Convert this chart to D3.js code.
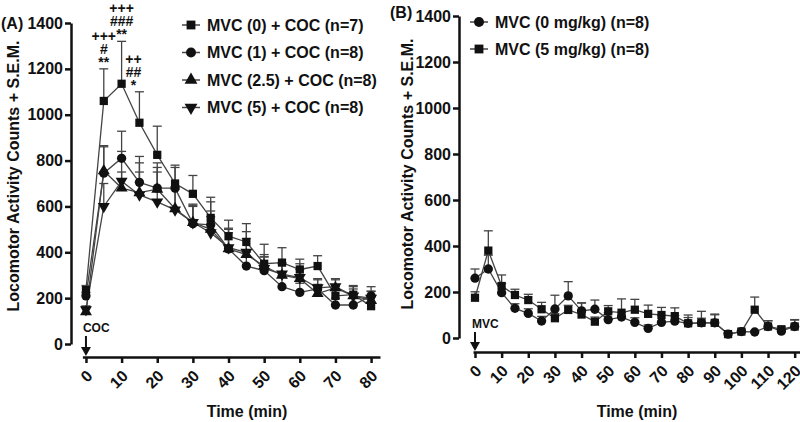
<!DOCTYPE html>
<html>
<head>
    <title>Locomotor activity</title>
    <script src="https://cdn.jsdelivr.net/npm/d3@7"></script>
    <style>
        body { margin: 0; background: #fff; }
        text { font-family: "Liberation Sans", Arial, sans-serif; font-weight: bold; fill: #111; }
    </style>
</head>
<body>
    <div id="chart"></div>
    <script type="text/javascript">
        // panel A : cocaine after MVC pretreatment
        var timeA = [0, 5, 10, 15, 20, 25, 30, 35, 40, 45, 50, 55, 60, 65, 70, 75, 80];
        var mvc0 = [235, 1060, 1135, 965, 825, 700, 655, 550, 470, 445, 350, 355, 325, 340, 210, 215, 165];
        var mvc0Err = [20, 140, 185, 135, 125, 80, 80, 90, 70, 80, 85, 65, 45, 45, 40, 40, 45];
        var mvc1 = [210, 745, 810, 705, 680, 680, 525, 520, 415, 340, 320, 250, 225, 240, 170, 170, 210];
        var mvc1Err = [15, 115, 118, 113, 110, 90, 80, 100, 70, 60, 60, 50, 40, 40, 30, 30, 40];
        var mvc25 = [140, 755, 680, 660, 675, 590, 530, 500, 415, 390, 340, 300, 285, 220, 245, 210, 190];
        var mvc25Err = [25, 110, 70, 90, 95, 85, 70, 80, 90, 70, 40, 50, 40, 40, 40, 40, 40];
        var mvc5 = [150, 600, 710, 650, 620, 585, 530, 485, 420, 400, 330, 305, 290, 245, 250, 210, 200];
        var mvc5Err = [15, 100, 130, 140, 130, 100, 80, 70, 80, 90, 60, 50, 60, 40, 30, 30, 30];
        var labelsA = ["MVC (0) + COC (n=7)", "MVC (1) + COC (n=8)", "MVC (2.5) + COC (n=8)", "MVC (5) + COC (n=8)"];
        var ticksXA = [0, 10, 20, 30, 40, 50, 60, 70, 80];

        // significance marks above MVC (0)
        var starTimes = [5, 10, 15];
        var starLines = [["+++", "#", "**"], ["+++", "###", "**"], ["++", "##", "*"]];

        // panel B : MVC alone
        var timeB = [0, 5, 10, 15, 20, 25, 30, 35, 40, 45, 50, 55, 60, 65, 70, 75, 80, 85, 90, 95, 100, 105, 110, 115, 120];
        var mvcB0 = [260, 300, 197, 129, 107, 74, 126, 183, 118, 125, 80, 91, 68, 42, 68, 73, 64, 66, 66, 17, 28, 26, 50, 30, 50];
        var mvcB0Err = [40, 60, 40, 20, 20, 20, 60, 62, 35, 40, 30, 20, 20, 15, 30, 25, 25, 50, 35, 5, 5, 5, 25, 10, 30];
        var mvcB5 = [175, 380, 226, 187, 165, 125, 86, 122, 102, 71, 116, 110, 123, 105, 100, 95, 64, 66, 66, 17, 28, 123, 50, 38, 50];
        var mvcB5Err = [26, 86, 48, 25, 25, 30, 20, 20, 50, 20, 25, 60, 45, 38, 33, 36, 36, 20, 38, 5, 5, 55, 25, 10, 28];
        var labelsB = ["MVC (0 mg/kg) (n=8)", "MVC (5 mg/kg) (n=8)"];
        var ticksXB = [0, 10, 20, 30, 40, 50, 60, 70, 80, 90, 100, 110, 120];

        var ticksY = [0, 200, 400, 600, 800, 1000, 1200, 1400];

        var width = 800, height = 422;

        var svg = d3.select("#chart").append("svg")
            .attr("width", width)
            .attr("height", height);

        function symPath(type, size) {
            return d3.symbol().type(type).size(size)();
        }

        var seriesA = [
            { name: labelsA[0], v: mvc0, e: mvc0Err, sym: d3.symbolSquare, flip: false },
            { name: labelsA[1], v: mvc1, e: mvc1Err, sym: d3.symbolCircle, flip: false },
            { name: labelsA[2], v: mvc25, e: mvc25Err, sym: d3.symbolTriangle, flip: false },
            { name: labelsA[3], v: mvc5, e: mvc5Err, sym: d3.symbolTriangle, flip: true }
        ];
        var seriesB = [
            { name: labelsB[0], v: mvcB0, e: mvcB0Err, sym: d3.symbolCircle, flip: false },
            { name: labelsB[1], v: mvcB5, e: mvcB5Err, sym: d3.symbolSquare, flip: false }
        ];

        function markerSize(s) {
            return s.sym === d3.symbolTriangle ? 62 : 68;
        }

        function drawPanel(o) {
            var g = svg.append("g");
            var x = d3.scaleLinear().domain(o.xDomain).range(o.xRange);
            var y = d3.scaleLinear().domain([0, 1400]).range(o.yRange);

            // y axis
            var ya = g.append("g")
                .attr("transform", "translate(" + o.yAxisX + ",0)")
                .call(d3.axisLeft(y).tickValues(ticksY).tickFormat(d3.format("d"))
                    .tickSize(6).tickPadding(2).tickSizeOuter(0));
            ya.select(".domain").attr("stroke", "#111").attr("stroke-width", 2.5);
            ya.selectAll(".tick line").attr("stroke", "#111").attr("stroke-width", 2.5);
            ya.selectAll(".tick text").style("font-size", "16px").attr("fill", "#111");

            // x axis
            var xa = g.append("g")
                .attr("transform", "translate(0," + o.xAxisY + ")")
                .call(d3.axisBottom(x).tickValues(o.ticksX).tickFormat(d3.format("d"))
                    .tickSize(6).tickSizeOuter(0));
            xa.select(".domain").attr("stroke", "#111").attr("stroke-width", 2.5);
            xa.selectAll(".tick line").attr("stroke", "#111").attr("stroke-width", 2.5);
            xa.selectAll(".tick text")
                .style("font-size", "16px")
                .attr("fill", "#111")
                .attr("y", 0)
                .attr("dy", "0.35em")
                .attr("transform", "translate(3,16) rotate(-45)")
                .style("text-anchor", "end");

            // titles
            g.append("text")
                .attr("x", o.xTitleX)
                .attr("y", 417)
                .attr("text-anchor", "middle")
                .style("font-size", "16px")
                .text("Time (min)");
            g.append("text")
                .attr("transform", "translate(" + o.yTitleX + "," + o.yTitleY + ") rotate(-90)")
                .attr("text-anchor", "middle")
                .attr("dy", "0.35em")
                .style("font-size", "16px")
                .text("Locomotor Activity Counts + S.E.M.");
            g.append("text")
                .attr("x", o.panelX)
                .attr("y", o.panelY)
                .style("font-size", "16px")
                .text(o.panel);

            // injection arrow
            var ax = x(0);
            g.append("text")
                .attr("x", ax - 3)
                .attr("y", o.arrowTop - 4)
                .style("font-size", "12px")
                .text(o.drug);
            g.append("line")
                .attr("x1", ax).attr("x2", ax)
                .attr("y1", o.arrowTop).attr("y2", o.arrowBottom - 6)
                .attr("stroke", "#111").attr("stroke-width", 2);
            g.append("path")
                .attr("d", "M" + (ax - 5) + "," + (o.arrowBottom - 9) + "L" + (ax + 5) + "," + (o.arrowBottom - 9) + "L" + ax + "," + o.arrowBottom + "Z")
                .attr("fill", "#111");

            var line = d3.line()
                .x(function(d, i) { return x(o.time[i]); })
                .y(function(d) { return y(d); });

            // error bars (upper only)
            o.series.forEach(function(s) {
                var eg = g.append("g").attr("stroke", "#444").attr("stroke-width", 1.3);
                s.v.forEach(function(d, i) {
                    var cx = x(o.time[i]), top = y(d + s.e[i]);
                    eg.append("line").attr("x1", cx).attr("x2", cx).attr("y1", y(d)).attr("y2", top);
                    eg.append("line").attr("x1", cx - 4.5).attr("x2", cx + 4.5).attr("y1", top).attr("y2", top);
                });
            });

            // connecting lines
            o.series.forEach(function(s) {
                g.append("path")
                    .datum(s.v)
                    .attr("d", line)
                    .attr("fill", "none")
                    .attr("stroke", "#444")
                    .attr("stroke-width", 1.3);
            });

            // markers
            o.series.forEach(function(s) {
                g.append("g").selectAll("path")
                    .data(s.v)
                    .enter().append("path")
                    .attr("d", symPath(s.sym, markerSize(s)))
                    .attr("transform", function(d, i) {
                        return "translate(" + x(o.time[i]) + "," + y(d) + ")" + (s.flip ? " rotate(180)" : "");
                    })
                    .attr("fill", "#111");
            });

            // legend
            var lg = g.append("g");
            o.series.forEach(function(s, i) {
                var ly = o.legendY + i * o.legendStep;
                lg.append("line")
                    .attr("x1", o.legendX - 9).attr("x2", o.legendX + 9)
                    .attr("y1", ly).attr("y2", ly)
                    .attr("stroke", "#444").attr("stroke-width", 1.5);
                lg.append("path")
                    .attr("d", symPath(s.sym, markerSize(s) + 10))
                    .attr("transform", "translate(" + o.legendX + "," + ly + ")" + (s.flip ? " rotate(180)" : ""))
                    .attr("fill", "#111");
                lg.append("text")
                    .attr("x", o.legendX + 16)
                    .attr("y", ly)
                    .attr("dy", "0.35em")
                    .style("font-size", "16px")
                    .text(s.name);
            });

            return { x: x, y: y, g: g };
        }

        var pa = drawPanel({
            time: timeA, series: seriesA, ticksX: ticksXA,
            xDomain: [-1, 82.5], xRange: [82.4, 380], yRange: [344, 23],
            yAxisX: 71, xAxisY: 357, xTitleX: 247,
            yTitleX: 13, yTitleY: 176, panel: "(A)", panelX: 1, panelY: 29,
            drug: "COC", arrowTop: 336, arrowBottom: 356,
            legendX: 191, legendY: 25, legendStep: 27.5
        });

        drawPanel({
            time: timeB, series: seriesB, ticksX: ticksXB,
            xDomain: [-0.75, 122], xRange: [473, 800], yRange: [338, 16],
            yAxisX: 459, xAxisY: 352, xTitleX: 637,
            yTitleX: 407, yTitleY: 174, panel: "(B)", panelX: 390, panelY: 18,
            drug: "MVC", arrowTop: 332, arrowBottom: 351,
            legendX: 479, legendY: 22, legendStep: 27
        });

        // significance marks in panel A, one stacked text per time point
        starTimes.forEach(function(t, k) {
            var i = timeA.indexOf(t);
            var top = pa.y(mvc0[i] + mvc0Err[i]);
            var lines = starLines[k];
            var cx = pa.x(t) + (t === 15 ? -6 : 0);
            var txt = pa.g.append("text")
                .attr("text-anchor", "middle")
                .style("font-size", "14px");
            lines.forEach(function(s, j) {
                txt.append("tspan")
                    .attr("x", cx)
                    .attr("y", top - 2 - (lines.length - 1 - j) * 13)
                    .text(s);
            });
        });
    </script>
</body>
</html>
